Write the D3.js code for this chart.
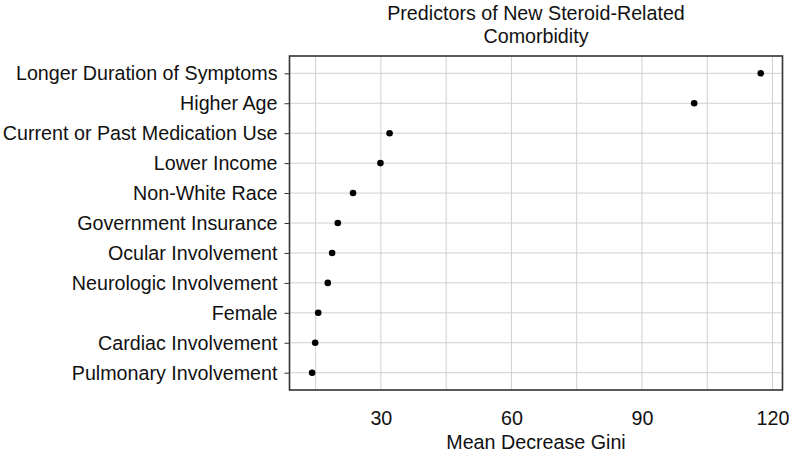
<!DOCTYPE html>
<html>
<head>
<meta charset="utf-8">
<script src="https://cdn.jsdelivr.net/npm/d3@7"></script>
<style>
  body { margin: 0; background: #fff; }
  text { font-family: "Liberation Sans", Arial, sans-serif; fill: #111; }
</style>
</head>
<body>
<svg id="chart" width="789" height="455"></svg>
<script>
var predictors = [
  "Longer Duration of Symptoms",
  "Higher Age",
  "Current or Past Medication Use",
  "Lower Income",
  "Non-White Race",
  "Government Insurance",
  "Ocular Involvement",
  "Neurologic Involvement",
  "Female",
  "Cardiac Involvement",
  "Pulmonary Involvement"
];
var giniValues = [117.3, 102.0, 32.0, 29.9, 23.6, 20.1, 18.8, 17.8, 15.6, 14.9, 14.2];
var xTicks = [30, 60, 90, 120];
var xGrid = [15, 30, 45, 60, 75, 90, 105, 120];

var fontSize = "19.7px";
var svg = d3.select("#chart");
var margin = {left: 289.5, right: 6.5, top: 56, bottom: 65};
var width = 789 - margin.left - margin.right;
var height = 455 - margin.top - margin.bottom;

var g = svg.append("g")
  .attr("transform", "translate(" + margin.left + "," + margin.top + ")");

var x = d3.scaleLinear().domain([9, 122.3]).range([0, width]);
var y = d3.scalePoint().domain(predictors).range([17.3, height - 17.3]);

// grid
g.selectAll(".vgrid").data(xGrid).enter().append("line")
  .attr("x1", function (d) { return x(d); })
  .attr("x2", function (d) { return x(d); })
  .attr("y1", 0).attr("y2", height)
  .attr("stroke", "#d0d0d0").attr("stroke-width", 1);

g.selectAll(".hgrid").data(predictors).enter().append("line")
  .attr("x1", 0).attr("x2", width)
  .attr("y1", function (d) { return y(d); })
  .attr("y2", function (d) { return y(d); })
  .attr("stroke", "#d0d0d0").attr("stroke-width", 1);

// y axis
var yAxis = g.append("g")
  .call(d3.axisLeft(y).tickSize(5).tickPadding(7));
yAxis.select(".domain").remove();
yAxis.selectAll("line").attr("stroke", "#333");
yAxis.selectAll("text")
  .style("font-family", "Liberation Sans, Arial, sans-serif")
  .style("font-size", fontSize).attr("fill", "#111");

// x axis
var xAxis = g.append("g")
  .attr("transform", "translate(0," + height + ")")
  .call(d3.axisBottom(x).tickValues(xTicks).tickSize(0).tickPadding(21));
xAxis.select(".domain").remove();
xAxis.selectAll("text")
  .style("font-family", "Liberation Sans, Arial, sans-serif")
  .style("font-size", fontSize).attr("fill", "#111");

// frame
g.append("rect")
  .attr("width", width).attr("height", height)
  .attr("fill", "none").attr("stroke", "#333").attr("stroke-width", 1.6);

// points
g.selectAll(".dot").data(giniValues).enter().append("circle")
  .attr("cx", function (d) { return x(d); })
  .attr("cy", function (d, i) { return y(predictors[i]); })
  .attr("r", 3.3)
  .attr("fill", "#000");

// titles
var cx = margin.left + width / 2;
svg.append("text").attr("x", cx).attr("y", 20)
  .attr("text-anchor", "middle").style("font-size", fontSize)
  .text("Predictors of New Steroid-Related");
svg.append("text").attr("x", cx).attr("y", 43)
  .attr("text-anchor", "middle").style("font-size", fontSize)
  .text("Comorbidity");
svg.append("text").attr("x", cx).attr("y", 449)
  .attr("text-anchor", "middle").style("font-size", fontSize)
  .text("Mean Decrease Gini");
</script>
</body>
</html>
